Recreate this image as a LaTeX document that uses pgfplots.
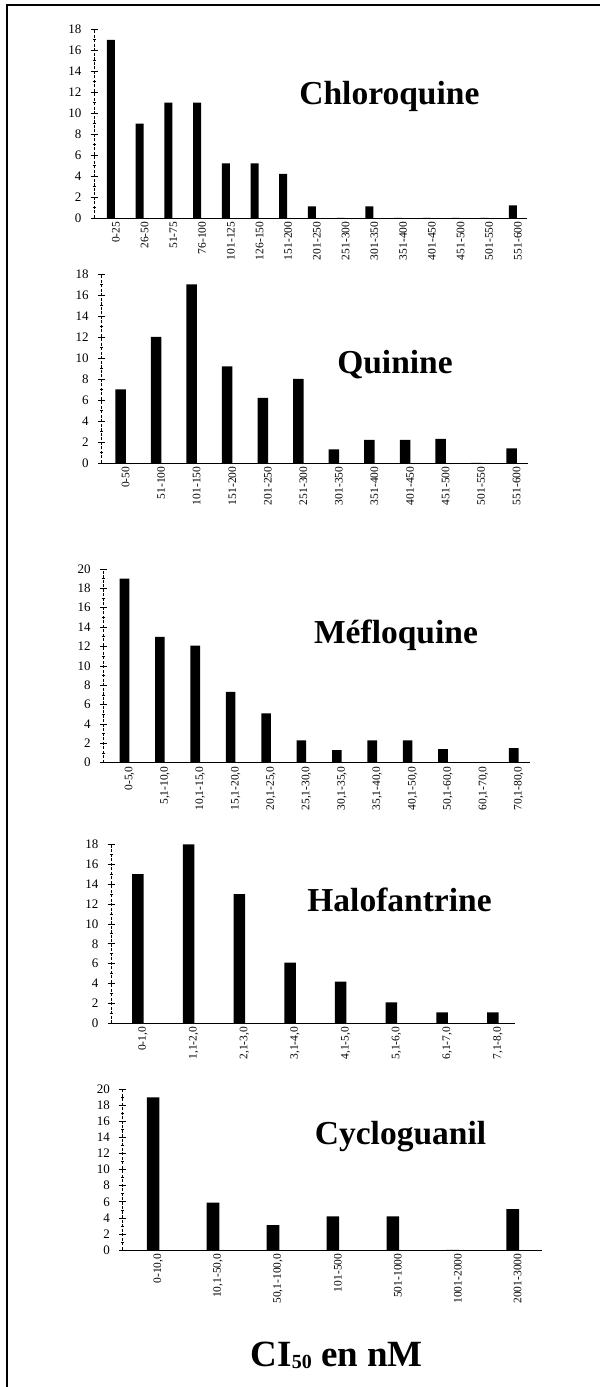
\documentclass[border=0pt]{standalone}
\usepackage{pgfplots}
\pgfplotsset{compat=1.18}
\usepackage{fontspec}
\setmainfont{Liberation Serif}
\pgfplotsset{
  panel/.style={
    scale only axis, ybar, ymin=0,
    axis x line=bottom, axis y line=left,
    axis line style={-, line width=0.8pt},
    y axis line style={dash pattern=on 3pt off 1.5pt},
    tick align=center,
    major tick length=7pt, minor tick length=3pt, minor y tick num=1,
    tick style={line width=0.6pt, black},
    x tick style={draw=none},
    xtick=data,
    xticklabel style={rotate=90, anchor=east, font=\fontsize{11.5}{12}\selectfont, inner sep=0pt, yshift=-5pt},
    yticklabel style={font=\fontsize{13}{13}\selectfont, inner sep=0pt, xshift=-9pt},
    /pgf/number format/assume math mode=true,
    anchor=south west,
    clip=false,
    cycle list={{fill=black, draw=none}},
  },
}
\tikzset{ttl/.style={anchor=base, font=\bfseries\fontsize{33.5}{34}\selectfont}}
\begin{document}
\begin{tikzpicture}[x=1pt,y=1pt]
\path[use as bounding box] (0,0) rectangle (600,1387);
\draw[line width=1.8pt] (7,0) -- (7,1382) -- (600,1382);

% Chloroquine
\begin{axis}[panel, at={(94pt,1169pt)}, width=433pt, height=188.7pt,
  xmin=-0.59, xmax=14.49, ymax=18, ytick={0,2,...,18}, bar width=8pt,
  xticklabels={0-25,26-50,51-75,76-100,101-125,126-150,151-200,201-250,251-300,301-350,351-400,401-450,451-500,501-550,551-600}]
\addplot[fill=black, draw=none] coordinates {(0,17)(1,9)(2,11)(3,11)(4,5.2)(5,5.2)(6,4.2)(7,1.1)(8,0)(9,1.1)(10,0)(11,0)(12,0)(13,0)(14,1.2)};
\end{axis}
\node[ttl] at (389.4,1282) {Chloroquine};

% Quinine
\begin{axis}[panel, at={(101.4pt,924pt)}, width=426.6pt, height=189pt,
  xmin=-0.54, xmax=11.46, ymax=18, ytick={0,2,...,18}, bar width=10.5pt,
  xticklabels={0-50,51-100,101-150,151-200,201-250,251-300,301-350,351-400,401-450,451-500,501-550,551-600}]
\addplot[fill=black, draw=none] coordinates {(0,7)(1,12)(2,17)(3,9.2)(4,6.2)(5,8)(6,1.3)(7,2.2)(8,2.2)(9,2.3)(10,0)(11,1.4)};
\end{axis}
\node[ttl] at (395,1013.7) {Quinine};

% Mefloquine
\begin{axis}[panel, at={(103.3pt,624.3pt)}, width=426.7pt, height=193.7pt,
  xmin=-0.6, xmax=11.46, ymax=20, ytick={0,2,...,20}, bar width=9.6pt,
  xticklabels={{0-5,0},{5,1-10,0},{10,1-15,0},{15,1-20,0},{20,1-25,0},{25,1-30,0},{30,1-35,0},{35,1-40,0},{40,1-50,0},{50,1-60,0},{60,1-70,0},{70,1-80,0}}]
\addplot[fill=black, draw=none] coordinates {(0,19)(1,13)(2,12.1)(3,7.3)(4,5.1)(5,2.3)(6,1.3)(7,2.3)(8,2.3)(9,1.4)(10,0)(11,1.5)};
\end{axis}
\node[ttl] at (396,743.7) {Méfloquine};

% Halofantrine
\begin{axis}[panel, at={(111pt,363.7pt)}, width=403.7pt, height=179pt,
  xmin=-0.53, xmax=7.43, ymax=18, ytick={0,2,...,18}, bar width=11.5pt,
  xticklabels={{0-1,0},{1,1-2,0},{2,1-3,0},{3,1-4,0},{4,1-5,0},{5,1-6,0},{6,1-7,0},{7,1-8,0}}]
\addplot[fill=black, draw=none] coordinates {(0,15)(1,18)(2,13)(3,6.1)(4,4.2)(5,2.1)(6,1.1)(7,1.1)};
\end{axis}
\node[ttl] at (399.5,475.3) {Halofantrine};

% Cycloguanil
\begin{axis}[panel, at={(122.5pt,137pt)}, width=419pt, height=160.7pt,
  xmin=-0.51, xmax=6.48, ymax=20, ytick={0,2,...,20}, bar width=12.6pt,
  xticklabels={{0-10,0},{10,1-50,0},{50,1-100,0},101-500,501-1000,1001-2000,2001-3000}]
\addplot[fill=black, draw=none] coordinates {(0,19)(1,5.9)(2,3.1)(3,4.2)(4,4.2)(5,0)(6,5.1)};
\end{axis}
\node[ttl] at (400.5,242) {Cycloguanil};

\node[anchor=base, font=\bfseries\fontsize{37}{38}\selectfont] at (336.8,20.3) {CI\raisebox{-0.05em}{\fontsize{20}{20}\selectfont 50} en nM};
\end{tikzpicture}
\end{document}
